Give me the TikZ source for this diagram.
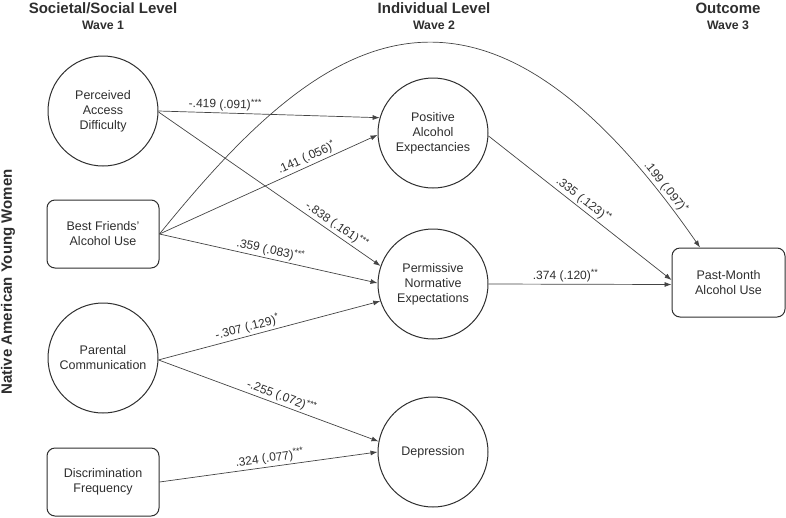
\documentclass[tikz,border=0pt]{standalone}
\usepackage{fontspec}
\setmainfont{Liberation Sans}
\usetikzlibrary{arrows.meta}
\definecolor{ink}{HTML}{2E2E2E}
\definecolor{linec}{HTML}{444444}
\newcommand{\sigmark}[1]{\raisebox{0.32em}{\fontsize{9}{9}\selectfont #1}}
\begin{document}
\begin{tikzpicture}[x=1pt,y=-1pt,
  every node/.style={inner sep=0pt, text=ink},
  circ/.style={draw=ink, circle, minimum size=110pt, align=center, line width=1pt,
    font=\fontsize{12.5}{15}\selectfont},
  rbox/.style={draw=ink, rounded corners=8pt, minimum width=112pt, minimum height=68pt,
    align=center, line width=1pt, font=\fontsize{12.5}{15}\selectfont},
  conn/.style={-{Latex[length=7pt,width=5pt]}, line width=0.7pt, draw=linec},
  lab/.style={font=\fontsize{12}{14}\selectfont, sloped, above, inner sep=2pt},
  hdr/.style={font=\bfseries\fontsize{15}{17}\selectfont},
  wav/.style={font=\bfseries\fontsize{12.3}{14}\selectfont}]
\useasboundingbox (0,0) rectangle (786,517);

% headers
\node[hdr] (h1) at (103,8) {Societal/Social Level};
\node[wav] (w1) at (103,25) {Wave 1};
\node[hdr] (h2) at (434,8) {Individual Level};
\node[wav] (w2) at (434,25) {Wave 2};
\node[hdr] (h3) at (728,8) {Outcome};
\node[wav] (w3) at (728,25) {Wave 3};
\node[hdr, rotate=90] (side) at (8,282) {Native American Young Women};

% wave 1
\node[circ] (pad) at (103,111) {Perceived\\Access\\Difficulty};
\node[rbox] (bf) at (103,234) {Best Friends'\\Alcohol Use};
\node[circ] (pc) at (103,358) {Parental\\Communication};
\node[rbox] (df) at (103,482) {Discrimination\\Frequency};

% wave 2
\node[circ] (pae) at (433,133) {Positive\\Alcohol\\Expectancies};
\node[circ] (pne) at (433,284) {Permissive\\Normative\\Expectations};
\node[circ] (dep) at (433,452) {Depression};

% wave 3
\node[rbox, minimum width=113pt, minimum height=69pt] (pm) at (728.5,282.5) {Past-Month\\Alcohol Use};

% paths
\draw[conn] (pad.0) -- (pae.164.5)
  node[lab, pos=0.3] {-.419 (.091)\sigmark{***}};
\draw[conn] (pad.-1) -- (pne.161)
  node[lab, pos=0.78] {-.838 (.161)\sigmark{***}};
\draw[conn] (bf.east) -- (pae.182)
  node[lab, pos=0.69] {.141 (.056)\sigmark{*}};
\draw[conn] (bf.east) -- (pne.179)
  node[lab, pos=0.5] {.359 (.083)\sigmark{***}};
\draw[conn] (pc.-2) -- (pne.198)
  node[lab, pos=0.41] {-.307 (.129)\sigmark{*}};
\draw[conn] (pc.-2) -- (dep.169)
  node[lab, pos=0.545] {-.255 (.072)\sigmark{***}};
\draw[conn] (df.east) -- (dep.180)
  node[lab, pos=0.51] {.324 (.077)\sigmark{***}};
\draw[conn] (pae.-3) -- ([yshift=2.5pt]pm.west)
  node[lab, pos=0.49] {.335 (.123)\sigmark{**}};
\draw[conn] (pne.east) -- ([yshift=-2pt]pm.west)
  node[lab, pos=0.42] {.374 (.120)\sigmark{**}};
\draw[conn] (bf.east) .. controls (311,47) and (469,-86) .. ([xshift=-28.5pt]pm.north)
  node[lab, pos=0.94] {.199 (.097)\sigmark{*}};
\end{tikzpicture}
\end{document}
